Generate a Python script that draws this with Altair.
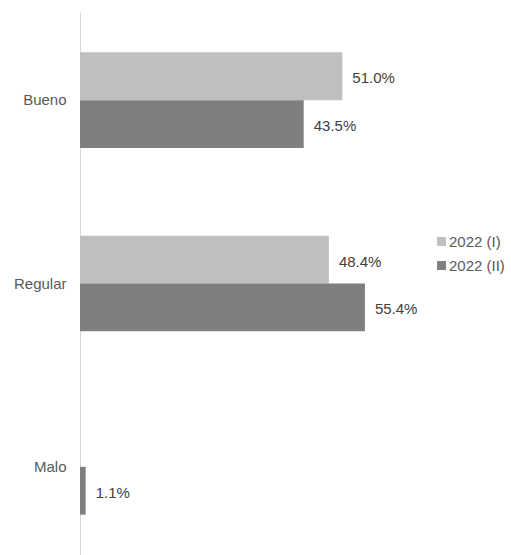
import altair as alt
import pandas as pd

categories = ["Bueno", "Regular", "Malo"]
series = ["2022 (I)", "2022 (II)"]
values_i = [51.0, 48.4, None]
values_ii = [43.5, 55.4, 1.1]
colors = ["#BFBFBF", "#7F7F7F"]

rows = []
for c, a, b in zip(categories, values_i, values_ii):
    if a is not None:
        rows.append({"cat": c, "serie": series[0], "val": a})
    if b is not None:
        rows.append({"cat": c, "serie": series[1], "val": b})
df = pd.DataFrame(rows)
df["label"] = df["val"].map(lambda v: f"{v:.1f}%")

y = alt.Y("cat:N", sort=categories,
          scale=alt.Scale(paddingInner=0.478, paddingOuter=0.22),
          axis=alt.Axis(title=None, ticks=False, domainColor="#D9D9D9", domainWidth=1,
                        labelFont="Liberation Sans", labelFontSize=15, labelColor="#595959",
                        labelPadding=14, grid=False))
yoff = alt.YOffset("serie:N", sort=series)
x = alt.X("val:Q", scale=alt.Scale(domain=[0, 70]), axis=None)

bars = alt.Chart(df).mark_bar().encode(
    y=y, yOffset=yoff, x=x,
    color=alt.Color("serie:N", sort=series,
                    scale=alt.Scale(domain=series, range=colors),
                    legend=alt.Legend(title=None, orient="none", legendX=354, legendY=222,
                                      symbolType="square", symbolSize=80, symbolStrokeWidth=0,
                                      labelFont="Liberation Sans", labelFontSize=15,
                                      labelColor="#595959", rowPadding=8, labelOffset=0)),
)

text = alt.Chart(df).mark_text(align="left", baseline="middle", dx=10, dy=2,
                               font="Liberation Sans", fontSize=15, color="#404040").encode(
    y=y, yOffset=yoff, x=x, text="label:N")

chart = (bars + text).properties(
    width=360, height=543,
    background="white",
    autosize=alt.AutoSizeParams(type="none"),
    padding={"left": 80, "top": 12, "right": 71, "bottom": 0},
).configure_view(stroke=None)

chart.save("out.html", embed_options={"renderer": "svg", "actions": False})
